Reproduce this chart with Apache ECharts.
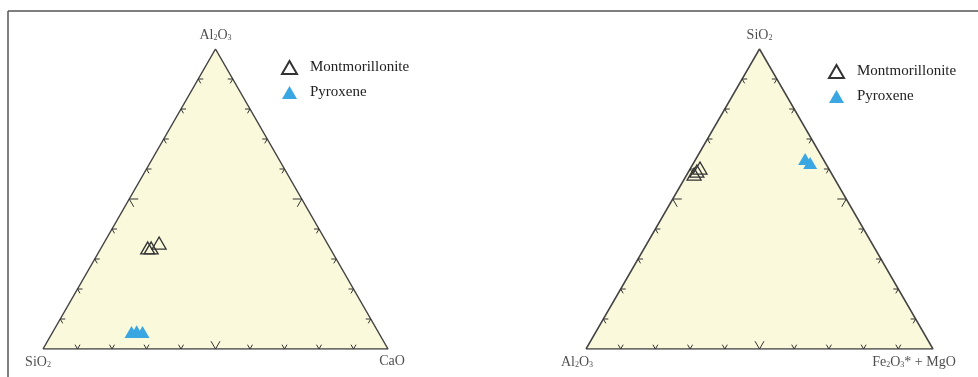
<!DOCTYPE html>
<html>
<head>
<meta charset="utf-8">
<script src="https://cdn.jsdelivr.net/npm/echarts@6/dist/echarts.min.js"></script>
<style>html,body{margin:0;padding:0;background:#fff}#c{width:978px;height:377px}</style>
</head>
<body>
<div id="c"></div>
<script>
// Ternary compositions (%)
// Left diagram: [SiO2 (left), Al2O3 (top), CaO (right)]
const leftMontmorillonite = [[52.8, 33.7, 13.5], [51.8, 33.7, 14.5], [48.7, 35.3, 16.0]];
const leftPyroxene = [[71.5, 5.7, 22.8], [69.9, 5.9, 24.2], [68.3, 5.7, 26.0]];
// Right diagram: [Al2O3 (left), SiO2 (top), Fe2O3*+MgO (right)]
const rightMontmorillonite = [[39.7, 58.3, 2.0], [38.4, 59.3, 2.3], [37.0, 60.3, 2.7]];
const rightPyroxene = [[5.2, 63.3, 31.5], [4.4, 62.0, 33.6]];
// Tick fractions along each side
const tickValues = [0.1, 0.2, 0.3, 0.4, 0.5, 0.6, 0.7, 0.8, 0.9];
// Vertex labels [left, top, right]
const leftVertexLabels = ['SiO{s|2}', 'Al{s|2}O{s|3}', 'CaO'];
const rightVertexLabels = ['Al{s|2}O{s|3}', 'SiO{s|2}', 'Fe{s|2}O{s|3}* + MgO'];
const seriesNames = ['Montmorillonite', 'Pyroxene'];

function toXY(c) { // c = [left, top, right]
  const s = c[0] + c[1] + c[2];
  return [(c[2] + c[1] / 2) / s, c[1] / s];
}
const triangle = [[0, 0], [0.5, 1], [1, 0], [0, 0]];
const vertices = [[0, 0], [0.5, 1], [1, 0]];
const tickData = [];
[0, 1, 2].forEach(e => tickValues.forEach(t => tickData.push([e, t])));

const FONT = '"Liberation Serif", "Times New Roman", serif';
const rich = { s: { fontSize: 8, fontFamily: FONT, color: '#222', verticalAlign: 'bottom', padding: [6, 0, 0, 0] } };

function tickRender(params, api) {
  const e = api.value(0), t = api.value(1);
  let pt, n;
  if (e === 0) { pt = [t, 0]; n = [0, -1]; }
  else if (e === 1) { pt = [t / 2, t]; n = [0.866, 0.5]; }
  else { pt = [1 - t / 2, t]; n = [-0.866, 0.5]; }
  const p = api.coord(pt);
  const L = Math.abs(t - 0.5) < 1e-6 ? 9 : 5;
  const c = Math.cos(Math.PI / 6), s = Math.sin(Math.PI / 6);
  const a1 = [n[0] * c - n[1] * s, n[0] * s + n[1] * c];
  const a2 = [n[0] * c + n[1] * s, -n[0] * s + n[1] * c];
  return {
    type: 'polyline',
    shape: { points: [[p[0] + a1[0] * L, p[1] + a1[1] * L], [p[0], p[1]], [p[0] + a2[0] * L, p[1] + a2[1] * L]] },
    style: { stroke: '#333', lineWidth: 1, fill: 'none' }
  };
}

const offsets = {
  0: [[-5, 13], [0, -14], [4, 12]],
  1: [[-9, 13], [0, -14], [-19, 13]]
};

function diagramSeries(idx, mont, pyro, labels) {
  return [
    {
      type: 'line', xAxisIndex: idx, yAxisIndex: idx, data: triangle, showSymbol: false, silent: true,
      lineStyle: { color: '#444', width: 1.5 }, areaStyle: { color: '#FBF9DC', opacity: 1 }, z: 1
    },
    {
      type: 'custom', xAxisIndex: idx, yAxisIndex: idx, data: tickData, renderItem: tickRender, silent: true, z: 2
    },
    {
      type: 'scatter', xAxisIndex: idx, yAxisIndex: idx, symbolSize: 0, silent: true, z: 3,
      data: vertices.map((v, i) => ({
        value: v,
        label: { show: true, position: [0, 0], offset: offsets[idx][i], align: 'center', verticalAlign: 'middle',
          formatter: labels[i], fontFamily: FONT, fontSize: 14, color: '#222', rich: rich }
      }))
    },
    {
      name: seriesNames[0], type: 'scatter', xAxisIndex: idx, yAxisIndex: idx, symbol: 'triangle', symbolSize: [14, 12], z: 5,
      itemStyle: { color: 'rgba(255,255,255,0)', borderColor: '#333', borderWidth: 1.3, opacity: 1 },
      data: mont.map(toXY)
    },
    {
      name: seriesNames[1], type: 'scatter', xAxisIndex: idx, yAxisIndex: idx, symbol: 'triangle', symbolSize: [14, 12], z: 5,
      itemStyle: { color: '#3AA6E2', opacity: 1 },
      data: pyro.map(toXY)
    }
  ];
}

const axisCommon = { type: 'value', min: 0, max: 1, show: false };
const legendCommon = {
  orient: 'vertical', icon: 'triangle', itemWidth: 15, itemHeight: 13, itemGap: 10, selectedMode: false,
  textStyle: { fontFamily: FONT, fontSize: 15, color: '#222', padding: [0, 0, 0, 8] },
  data: seriesNames
};

const chart = echarts.init(document.getElementById('c'));
chart.setOption({
  animation: false,
  backgroundColor: '#fff',
  grid: [
    { left: 43, top: 49, width: 345, height: 300 },
    { left: 586, top: 49, width: 347, height: 300 }
  ],
  xAxis: [Object.assign({ gridIndex: 0 }, axisCommon), Object.assign({ gridIndex: 1 }, axisCommon)],
  yAxis: [Object.assign({ gridIndex: 0 }, axisCommon), Object.assign({ gridIndex: 1 }, axisCommon)],
  legend: [
    Object.assign({ left: 276, top: 55 }, legendCommon),
    Object.assign({ left: 823, top: 59 }, legendCommon)
  ],
  graphic: [
    { type: 'line', shape: { x1: 8, y1: 11, x2: 978, y2: 11 }, style: { stroke: '#555', lineWidth: 1.5 }, silent: true },
    { type: 'line', shape: { x1: 8, y1: 11, x2: 8, y2: 377 }, style: { stroke: '#555', lineWidth: 1.5 }, silent: true }
  ],
  series: [].concat(
    diagramSeries(0, leftMontmorillonite, leftPyroxene, leftVertexLabels),
    diagramSeries(1, rightMontmorillonite, rightPyroxene, rightVertexLabels)
  )
});
</script>
</body>
</html>
